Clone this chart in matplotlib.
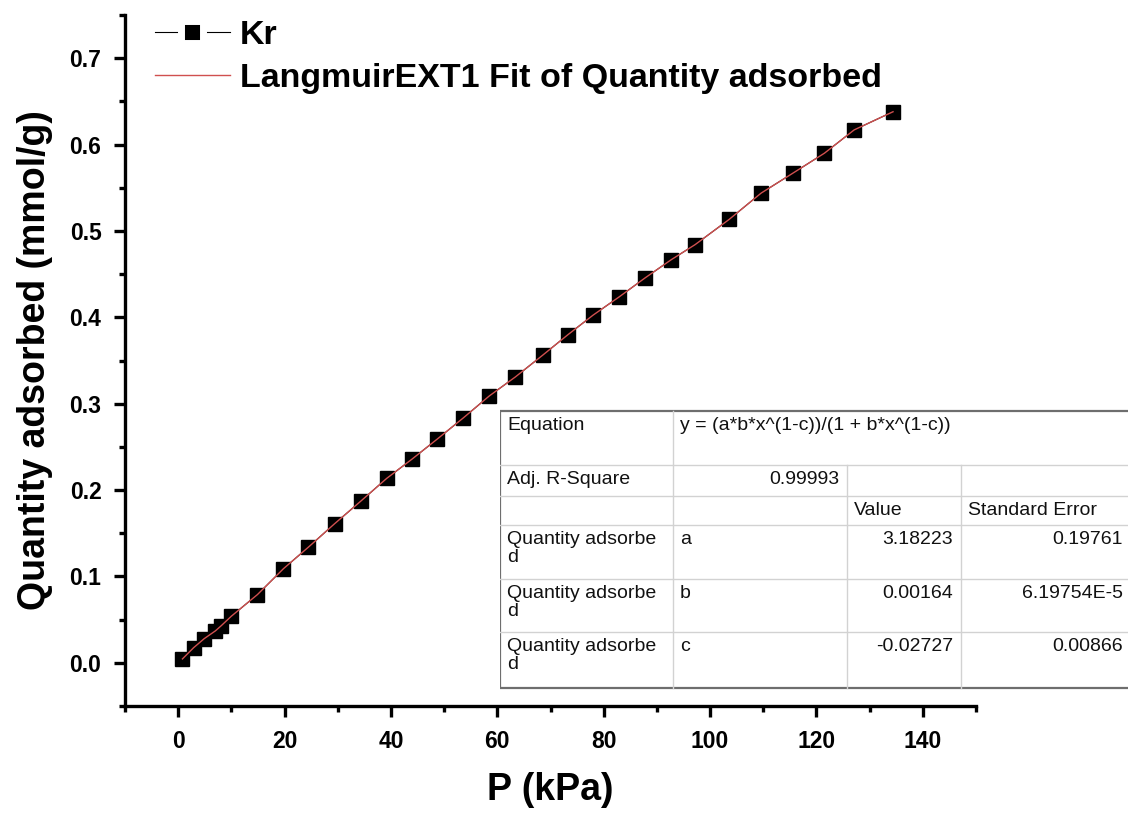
#!/usr/bin/env python3

'''Kr adsorption isotherm with LangmuirEXT1 fit and Origin-style parameter
table.'''

import matplotlib as mpl
mpl.use('Agg')
import matplotlib.pyplot as plt
from matplotlib.lines import Line2D
from matplotlib.patches import Rectangle
from matplotlib.ticker import MultipleLocator

# data
pressure = [0.8, 2.9, 4.9, 7.0, 8.1, 10.0, 14.9, 19.8, 24.5, 29.4, 34.3,
            39.2, 44.0, 48.7, 53.6, 58.5, 63.4, 68.5, 73.3, 78.0, 82.9,
            87.8, 92.7, 97.2, 103.6, 109.6, 115.6, 121.5, 127.1, 134.4]
quantity = [0.0045, 0.0175, 0.028, 0.037, 0.043, 0.054, 0.079, 0.109, 0.134,
            0.161, 0.187, 0.2135, 0.236, 0.259, 0.2835, 0.309, 0.331, 0.356,
            0.380, 0.4025, 0.4236, 0.4457, 0.4667, 0.4842, 0.5134, 0.5438,
            0.567, 0.590, 0.617, 0.638]

# fit table contents
table_rows = [
    ['Equation', 'y = (a*b*x^(1-c))/(1 + b*x^(1-c))', '', ''],
    ['Adj. R-Square', '0.99993', '', ''],
    ['', '', 'Value', 'Standard Error'],
    ['Quantity adsorbe\nd', 'a', '3.18223', '0.19761'],
    ['Quantity adsorbe\nd', 'b', '0.00164', '6.19754E-5'],
    ['Quantity adsorbe\nd', 'c', '-0.02727', '0.00866'],
]

W, H, DPI = 1128, 813, 100


def style_axes(ax):
    for side in ('top', 'right'):
        ax.spines[side].set_visible(False)
    for side in ('left', 'bottom'):
        ax.spines[side].set_linewidth(2.4)
    ax.set_xlim(-10, 150)
    ax.set_ylim(-0.05, 0.75)
    ax.xaxis.set_major_locator(MultipleLocator(20))
    ax.xaxis.set_minor_locator(MultipleLocator(10))
    ax.yaxis.set_major_locator(MultipleLocator(0.1))
    ax.yaxis.set_minor_locator(MultipleLocator(0.05))
    ax.tick_params(which='major', direction='out', length=8, width=2.4,
                   labelsize=16.5, pad=9)
    ax.tick_params(which='minor', direction='out', length=4.5, width=2.4)
    ax.set_xticks([0, 20, 40, 60, 80, 100, 120, 140])
    ax.set_yticks([0.0, 0.1, 0.2, 0.3, 0.4, 0.5, 0.6, 0.7])
    for lab in ax.get_xticklabels() + ax.get_yticklabels():
        lab.set_fontweight('bold')


def draw_table(fig):
    '''Draw the fit parameter table in pixel units of the figure.'''

    x0, x1 = 500, 1131
    tab = fig.add_axes([x0 / W, 1 - 690 / H, (W - x0) / W, (690 - 409) / H])
    tab.set_xlim(x0, W)
    tab.set_ylim(690, 409)
    tab.axis('off')
    tab.set_zorder(5)

    cols = [500, 673, 847, 961, x1]
    rows = [411, 465, 496, 525, 579, 632, 688]
    grid = '#d2d2d2'

    tab.add_patch(Rectangle((x0, rows[0]), x1 - x0, rows[-1] - rows[0],
                            facecolor='white', edgecolor='none'))
    for y in rows[1:-1]:
        tab.plot([x0, x1], [y, y], color=grid, lw=1.0)
    tab.plot([cols[1], cols[1]], [rows[0], rows[-1]], color=grid, lw=1.0)
    for x in cols[2:4]:
        tab.plot([x, x], [rows[1], rows[-1]], color=grid, lw=1.0)
    tab.add_patch(Rectangle((x0, rows[0]), x1 - x0, rows[-1] - rows[0],
                            facecolor='none', edgecolor='#6e6e6e', lw=1.6))

    kw = dict(fontsize=14, family='Liberation Sans', va='top',
              linespacing=1.1, color='#111111')
    for i, row in enumerate(table_rows):
        ytop = rows[i] + 6
        for j, txt in enumerate(row):
            if not txt:
                continue
            numeric = (i == 1 and j == 1) or (i >= 3 and j >= 2)
            if numeric:
                tab.text(cols[j + 1] - 8, ytop, txt, ha='right', **kw)
            else:
                tab.text(cols[j] + 7, ytop, txt, ha='left', **kw)


def main():
    plt.rcParams['font.family'] = ['Liberation Sans', 'DejaVu Sans']

    fig = plt.figure(figsize=(W / DPI, H / DPI), dpi=DPI)
    ax = fig.add_axes([125 / W, 1 - 706 / H, 851 / W, 691 / H])
    style_axes(ax)

    ax.plot(pressure, quantity, color='black', lw=0.8, marker='s',
            markersize=9.5, zorder=3)
    ax.plot(pressure, quantity, color='#d0504f', lw=1.0, zorder=4)

    ax.set_xlabel('P (kPa)', fontsize=27, fontweight='bold', labelpad=14)
    ax.set_ylabel('Quantity adsorbed (mmol/g)', fontsize=27,
                  fontweight='bold', labelpad=12)

    handles = [Line2D([], [], color='black', lw=0.8, marker='s',
                      markersize=16, markerfacecolor='black',
                      markeredgecolor='white', markeredgewidth=5),
               Line2D([], [], color='#d0504f', lw=1.0)]
    labels = ['Kr', 'LangmuirEXT1 Fit of Quantity adsorbed']
    fig.legend(handles, labels, loc='upper left',
               bbox_to_anchor=(155 / W, 1 - 20 / H), frameon=False,
               prop={'size': 24.5, 'weight': 'bold'}, handlelength=2.2,
               handletextpad=0.3, labelspacing=0.36, borderpad=0,
               borderaxespad=0)

    draw_table(fig)

    fig.savefig('out.png', dpi=DPI)
    plt.close(fig)


if __name__ == '__main__':
    main()
